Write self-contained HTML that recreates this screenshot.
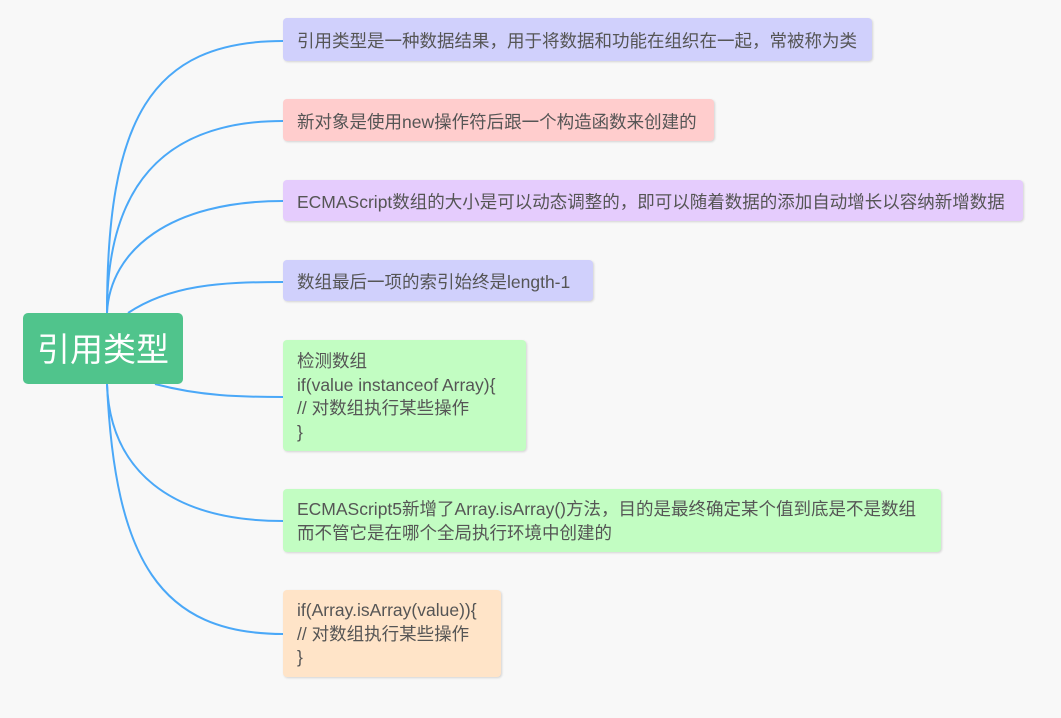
<!DOCTYPE html>
<html><head><meta charset="utf-8"><style>
body{margin:0;width:1061px;height:718px;background:#f8f8f8;overflow:hidden;position:relative;font-family:"Liberation Sans","Noto Sans CJK SC",sans-serif;}
.n{position:absolute;left:283px;border-radius:4px;color:#555;font-size:17.5px;line-height:23.5px;padding:0 14px;box-sizing:border-box;box-shadow:1px 1px 2px rgba(0,0,0,0.15);white-space:nowrap;}
.root{position:absolute;left:23px;top:313px;width:160px;height:71px;background:#50c48c;border-radius:5px;color:#fff;font-size:33px;line-height:73px;text-align:center;}
</style></head><body>
<svg width="1061" height="718" style="position:absolute;left:0;top:0">
<g fill="none" stroke="#4aa8f8" stroke-width="2">
<path d="M107 313 C107 120 150 41 283 41"/>
<path d="M107 313 C107 190 160 121 283 121"/>
<path d="M107 313 C110 250 170 201 283 201"/>
<path d="M128 313 C170 285 220 282 283 282"/>
<path d="M155 384 C200 396 240 397 283 397"/>
<path d="M107 384 C110 470 170 521 283 521"/>
<path d="M107 384 C115 560 160 634 283 634"/>
</g></svg>
<div class="root">引用类型</div>
<div class="n" style="top:18px;width:589px;height:43px;background:#d0d0fc;line-height:47px">引用类型是一种数据结果，用于将数据和功能在组织在一起，常被称为类</div>
<div class="n" style="top:99px;width:431px;height:42px;background:#ffcdcd;line-height:46px">新对象是使用new操作符后跟一个构造函数来创建的</div>
<div class="n" style="top:180px;width:740px;height:41px;background:#e5ccfd;line-height:45px">ECMAScript数组的大小是可以动态调整的，即可以随着数据的添加自动增长以容纳新增数据</div>
<div class="n" style="top:260px;width:310px;height:41px;background:#d0d0fc;line-height:45px">数组最后一项的索引始终是length-1</div>
<div class="n" style="top:340px;width:243px;height:111px;background:#c2fdc2;padding-top:10px">检测数组<br>if(value instanceof Array){<br>// 对数组执行某些操作<br>}</div>
<div class="n" style="top:489px;width:658px;height:63px;background:#c2fdc2;padding-top:9px">ECMAScript5新增了Array.isArray()方法，目的是最终确定某个值到底是不是数组<br>而不管它是在哪个全局执行环境中创建的</div>
<div class="n" style="top:590px;width:218px;height:87px;background:#ffe4c8;padding-top:9px">if(Array.isArray(value)){<br>// 对数组执行某些操作<br>}</div>
</body></html>
